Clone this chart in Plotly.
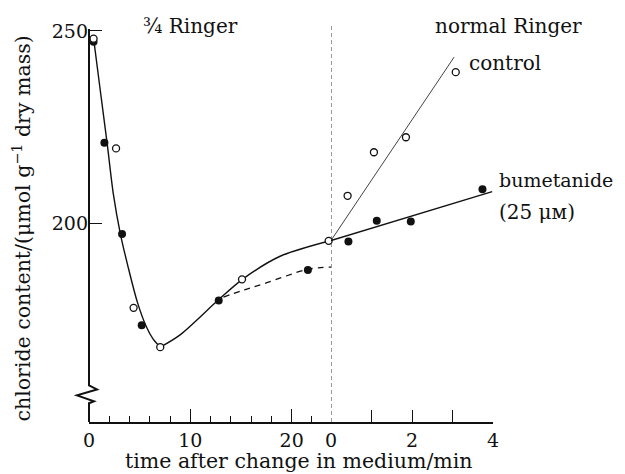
import plotly.graph_objects as go

# ---- data ----
# phase 1: 3/4 Ringer, time in min
p1_filled_t = [0.45, 1.52, 3.26, 5.2, 12.8, 21.6]
p1_filled_c = [247.2, 221.0, 197.3, 173.6, 180.0, 187.9]
p1_open_t = [0.45, 2.67, 4.4, 7.03, 15.1, 23.65]
p1_open_c = [248.0, 219.5, 178.1, 167.9, 185.5, 195.5]

# fitted curve (solid) in phase 1: fall, then rise
fall_t = [0.43, 1.12, 1.81, 2.40, 3.09, 3.88, 4.77, 5.66, 6.35, 7.03]
fall_c = [248.5, 234.4, 220.4, 207.7, 197.4, 188.5, 179.6, 173.2, 169.9, 167.9]
rise_t = [7.03, 8.99, 12.78, 15.14, 18.86, 23.88]
rise_c = [167.9, 171.1, 180.2, 185.5, 191.5, 195.6]
# dashed curve (bumetanide) in phase 1
dash_t = [13.27, 15.0, 17.2, 21.6, 23.88]
dash_c = [180.9, 182.5, 184.3, 188.1, 188.7]

# phase 2: normal Ringer
p2_filled_t = [0.43, 1.13, 1.97, 3.74]
p2_filled_c = [195.3, 200.7, 200.5, 208.9]
p2_open_t = [0.41, 1.06, 1.85, 3.08]
p2_open_c = [207.2, 218.5, 222.4, 239.3]
control_t = [0.0, 3.04]
control_c = [195.6, 243.2]
bumet_t = [0.0, 3.98]
bumet_c = [195.6, 208.3]

p1_ticks = [0, 10, 20]
p1_ticktext = ["0", "10", "20"]
p2_ticks = [0, 2, 4]
p2_ticktext = ["0", "2", "4"]
y_ticks = [200, 250]

FONT = "DejaVu Serif"
BLACK = "#111"

fig = go.Figure()

def add(x, y, xa, mode, **kw):
    fig.add_trace(go.Scatter(x=x, y=y, xaxis=xa, yaxis="y", mode=mode,
                             showlegend=False, hoverinfo="skip", cliponaxis=False, **kw))

add(fall_t, fall_c, "x", "lines", line=dict(color=BLACK, width=1.4, shape="spline", smoothing=0.8))
add(rise_t, rise_c, "x", "lines", line=dict(color=BLACK, width=1.4, shape="spline", smoothing=0.8))
add(dash_t, dash_c, "x", "lines", line=dict(color=BLACK, width=1.3, dash="6px,5px", shape="spline"))
add(control_t, control_c, "x2", "lines", line=dict(color=BLACK, width=0.8))
add(bumet_t, bumet_c, "x2", "lines", line=dict(color=BLACK, width=1.4))

filled = dict(color=BLACK, size=8, line=dict(width=0))
opened = dict(color="white", size=7, line=dict(color=BLACK, width=1.3))
add(p1_filled_t, p1_filled_c, "x", "markers", marker=filled)
add(p1_open_t, p1_open_c, "x", "markers", marker=opened)
add(p2_filled_t, p2_filled_c, "x2", "markers", marker=filled)
add(p2_open_t, p2_open_c, "x2", "markers", marker=opened)

OFF = 8  # page offset of the plot div (body margin)
W, H = 625, 474
# plot area in page pixels: x 89..493, y 24..422
PX0, PX1, PY0, PY1 = 89, 493, 24, 422
L, R = PX0 - OFF, W - (PX1 - OFF)
T, B = PY0 - OFF, H - (PY1 - OFF)
pw, ph = PX1 - PX0, PY1 - PY0
split = (331 - PX0) / pw

def px(x):
    return (x - PX0) / pw

def py(y):
    return (PY1 - y) / ph

axis_common = dict(showgrid=False, zeroline=False, showline=True, linecolor=BLACK,
                   linewidth=1.5, ticks="inside", tickcolor=BLACK, tickwidth=1.3,
                   tickfont=dict(family=FONT, size=19, color=BLACK), fixedrange=True)

fig.update_layout(
    width=W, height=H, margin=dict(l=L, r=R, t=T, b=B),
    paper_bgcolor="white", plot_bgcolor="white",
    xaxis=dict(domain=[0, split], range=[0, 23.88], tickmode="array", tickvals=p1_ticks,
               ticktext=p1_ticktext, ticklen=13, anchor="y",
               minor=dict(dtick=2, tick0=0, ticklen=6, ticks="inside", tickcolor=BLACK, tickwidth=1.2),
               **axis_common),
    xaxis2=dict(domain=[split, 1], range=[0, 4], tickmode="array", tickvals=p2_ticks,
                ticktext=p2_ticktext, ticklen=12, anchor="y",
                minor=dict(dtick=1, tick0=0, ticklen=12, ticks="inside", tickcolor=BLACK, tickwidth=1.3),
                **axis_common),
    yaxis=dict(range=[148.47, 250.5], tickmode="array", tickvals=y_ticks,
               ticklen=13, showgrid=False, zeroline=False, showline=False,
               ticks="inside", tickcolor=BLACK, tickwidth=1.3,
               tickfont=dict(family=FONT, size=19, color=BLACK), fixedrange=True),
    font=dict(family=FONT, size=19, color=BLACK),
)

# y axis line with break
zig = "M 0,0 L 0,%.4f L %.4f,%.4f L %.4f,%.4f L %.4f,%.4f L 0,%.4f L 0,1" % (
    py(403), px(94), py(401), px(77), py(395), px(97), py(389), py(385))
fig.add_shape(type="path", path=zig, xref="paper", yref="paper",
              line=dict(color=BLACK, width=2))

# dashed vertical separator
fig.add_shape(type="line", xref="x2", yref="paper", x0=0, x1=0, y0=0, y1=py(18),
              line=dict(color="#333", width=1, dash="4px,3px"))

def ann(text, x, y, xanchor="center", angle=0, size=20):
    fig.add_annotation(text=text, x=px(x), y=py(y), xref="paper", yref="paper",
                       xanchor=xanchor, yanchor="middle", showarrow=False, textangle=angle,
                       font=dict(family=FONT, size=size, color=BLACK))

ann("time after change in medium/min", 299, 461, size=20.5)
ann("chloride content/(μmol g<sup>−1</sup> dry mass)", 22, 226, angle=-90, size=20.5)
ann("¾ Ringer", 190, 21)
ann("normal Ringer", 508, 21)
ann("control", 467, 58, xanchor="left")
ann("bumetanide", 497, 177, xanchor="left", size=19)
ann("(25 μᴍ)", 497, 209, xanchor="left")

fig.write_html("out.html")
